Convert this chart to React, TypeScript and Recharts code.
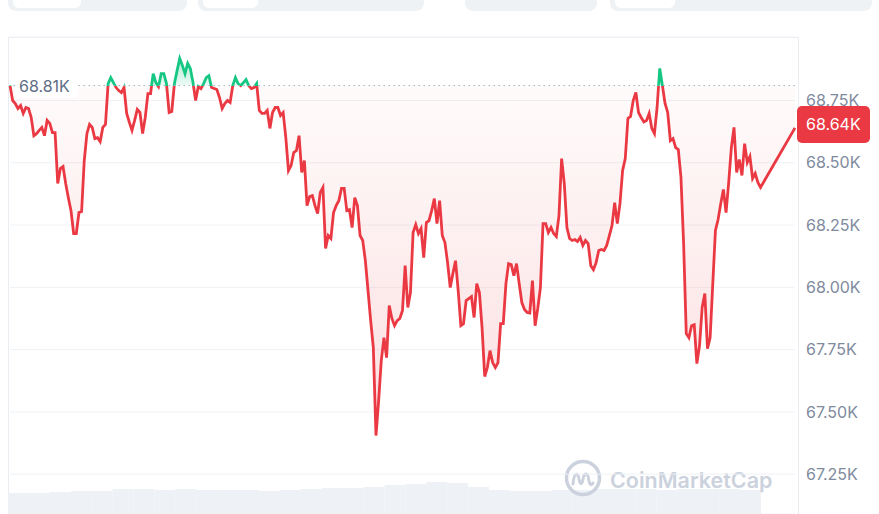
import React from 'react';
import {
  ComposedChart,
  Area,
  XAxis,
  YAxis,
  CartesianGrid,
  ReferenceLine,
  BarChart,
  Bar,
} from 'recharts';

// BTC/USD, last 24h, one sample every 5 minutes
const prices = [
  68810, 68750, 68738, 68718, 68730, 68698, 68722, 68718, 68682, 68609,
  68617, 68630, 68642, 68609, 68670, 68658, 68621, 68621, 68417, 68477,
  68485, 68417, 68360, 68308, 68216, 68216, 68300, 68304, 68509, 68617,
  68654, 68642, 68597, 68601, 68585, 68642, 68654, 68818, 68842, 68822,
  68802, 68790, 68782, 68802, 68698, 68662, 68630, 68670, 68714, 68702,
  68617, 68682, 68778, 68778, 68858, 68822, 68806, 68858, 68858, 68818,
  68702, 68706, 68818, 68870, 68919, 68891, 68858, 68899, 68879,
  68822, 68750, 68806, 68798, 68818, 68842, 68850, 68802, 68798, 68794,
  68762, 68718, 68738, 68750, 68742, 68810, 68842, 68818, 68810, 68822,
  68834, 68810, 68798, 68802, 68818, 68710, 68698, 68698, 68710,
  68638, 68702, 68722, 68722, 68690, 68702, 68601, 68469, 68489, 68541,
  68549, 68609, 68461, 68509, 68328, 68364, 68368, 68328, 68296, 68381,
  68401, 68156, 68208, 68196, 68300, 68328, 68348, 68397, 68397, 68308,
  68312, 68240, 68360, 68328, 68208, 68188, 68107, 67987, 67866, 67758,
  67405, 67545, 67706, 67798, 67718, 67927, 67875, 67846, 67866, 67875,
  67907, 68087, 67919, 67979, 68220, 68252, 68216, 68236, 68119, 68260,
  68268, 68308, 68356, 68256, 68348, 68208, 68180, 68099, 67999, 68055,
  68107, 67987, 67846, 67854, 67947, 67955, 67963, 67879, 68015, 67979,
  67838, 67642, 67678, 67746, 67698, 67678, 67698, 67854, 67854, 68015,
  68095, 68091, 68047, 68095, 68015, 67939, 67911, 67899, 67897, 68027,
  67846, 67915, 67999, 68256, 68256, 68220, 68240, 68216, 68204, 68288,
  68517, 68417, 68240, 68196, 68188, 68192, 68184, 68200, 68168, 68188,
  68176, 68087, 68071, 68099, 68148, 68152, 68148, 68168, 68208, 68248,
  68340, 68256, 68336, 68469, 68517, 68678, 68686, 68750, 68782, 68702,
  68682, 68664, 68670, 68698, 68638, 68617, 68722, 68879, 68810, 68738,
  68702, 68589, 68597, 68561, 68553, 68441, 68176, 67814, 67798, 67846,
  67850, 67694, 67766, 67919, 67975, 67754, 67798, 68015, 68228, 68272,
  68336, 68393, 68300, 68421, 68561, 68642, 68461, 68513, 68449, 68577,
  68501, 68525, 68437, 68457, 68421, 68401,
];
const stepMinutes = 5;
const openPrice = 68810;
const latestPrice = 68640;
const latestMinute = 1480;

const yTicks = [67250, 67500, 67750, 68000, 68250, 68500, 68750];

// traded volume, relative, in ~20 min buckets
const volumeBars = [
  21, 21, 22, 23, 23, 25, 25, 24, 25, 24, 24, 24, 23, 24, 25, 26, 26, 27,
  29, 30, 32, 31, 27, 24, 23, 23, 24, 24, 25, 25, 25, 24, 25, 25, 25, 24,
];

const UP = '#16c784';
const DOWN = '#ea3943';

const data = [
  ...prices.map((price, i) => ({ t: i * stepMinutes, price })),
  { t: latestMinute, price: latestPrice },
];
const maxP = Math.max(...data.map((d) => d.price));
const minP = Math.min(...data.map((d) => d.price));
const split = (maxP - openPrice) / (maxP - minP);

const fmtK = (v: number) => `${(v / 1000).toFixed(2)}K`;

const BaselineTag = (props: any) => {
  const { viewBox } = props;
  if (!viewBox) return null;
  return (
    <g>
      <rect x={viewBox.x + 5} y={viewBox.y - 12} width={63} height={24} rx={4} fill="#fff" />
      <text x={viewBox.x + 9} y={viewBox.y + 6} fill="#616e85" fontSize={16} fontFamily="Inter">
        {fmtK(openPrice)}
      </text>
    </g>
  );
};

const PriceBadge = (props: any) => {
  const { viewBox } = props;
  if (!viewBox) return null;
  const x = viewBox.x + viewBox.width + 2;
  return (
    <g>
      <rect x={x} y={viewBox.y - 22} width={73} height={37} rx={5} fill={DOWN} />
      <text x={x + 9} y={viewBox.y + 2} fill="#fff" fontSize={16} fontFamily="Inter">
        {fmtK(latestPrice)}
      </text>
    </g>
  );
};

const Tabs = () => {
  const tabs = [
    { left: 8, width: 179, inner: 68 },
    { left: 198, width: 226, inner: 55 },
    { left: 465, width: 132, inner: 0 },
    { left: 610, width: 262, inner: 60 },
  ];
  return (
    <>
      {tabs.map((t, i) => (
        <div
          key={i}
          style={{
            position: 'absolute',
            left: t.left,
            top: 0,
            width: t.width,
            height: 11,
            background: '#eff2f5',
            borderRadius: '0 0 8px 8px',
          }}
        >
          {t.inner > 0 && (
            <div
              style={{
                position: 'absolute',
                left: 5,
                top: 0,
                width: t.inner,
                height: 8,
                background: '#fff',
                borderRadius: '0 0 6px 6px',
              }}
            />
          )}
        </div>
      ))}
    </>
  );
};

const Watermark = () => (
  <svg
    width={220}
    height={42}
    style={{ position: 'absolute', left: 563, top: 458 }}
  >
    <circle cx={20} cy={20} r={16.5} fill="none" stroke="#cbd2dd" strokeWidth={3.5} />
    <path
      d="M10 26 C11 14, 15 14, 16 21 C17 27, 19 27, 20 21 C21 14, 25 14, 26 23 C27 28, 29 27, 30 25"
      fill="none"
      stroke="#cbd2dd"
      strokeWidth={3}
      strokeLinecap="round"
    />
    <text x={47} y={30} fill="#cbd2dd" fontSize={21.5} fontWeight={600} fontFamily="Inter">
      CoinMarketCap
    </text>
  </svg>
);

export default function App() {
  return (
    <div
      style={{
        position: 'absolute',
        left: 0,
        top: 0,
        width: 879,
        height: 514,
        overflow: 'hidden',
        background: '#fff',
        fontFamily: 'Inter, sans-serif',
      }}
    >
      <Tabs />
      <div
        style={{
          position: 'absolute',
          left: 8,
          top: 37,
          width: 789,
          height: 490,
          border: '1px solid #e9ecf0',
        }}
      />
      <div style={{ position: 'absolute', left: 8, top: 474 }}>
        <BarChart
          width={753}
          height={40}
          data={volumeBars.map((v, i) => ({ i, v }))}
          margin={{ top: 0, right: 0, bottom: 0, left: 0 }}
          barCategoryGap={0}
        >
          <XAxis dataKey="i" hide />
          <YAxis domain={[0, 40]} hide />
          <Bar dataKey="v" fill="#eef1f6" isAnimationActive={false} />
        </BarChart>
      </div>
      <Watermark />
      <div style={{ position: 'absolute', left: 0, top: 0 }}>
        <ComposedChart
          width={879}
          height={514}
          data={data}
          margin={{ top: 37, right: 0, bottom: 0, left: 10 }}
        >
          <defs>
            <linearGradient id="lineSplit" x1="0" y1="0" x2="0" y2="1">
              <stop offset={0} stopColor={UP} />
              <stop offset={split} stopColor={UP} />
              <stop offset={split} stopColor={DOWN} />
              <stop offset={1} stopColor={DOWN} />
            </linearGradient>
            <linearGradient id="fillSplit" x1="0" y1="0" x2="0" y2="1">
              <stop offset={0} stopColor={UP} stopOpacity={0.35} />
              <stop offset={split} stopColor={UP} stopOpacity={0.08} />
              <stop offset={split} stopColor={DOWN} stopOpacity={0.02} />
              <stop offset={1} stopColor={DOWN} stopOpacity={0.16} />
            </linearGradient>
          </defs>
          <CartesianGrid vertical={false} stroke="#eff2f5" />
          <XAxis dataKey="t" type="number" domain={[0, latestMinute]} hide />
          <YAxis
            orientation="right"
            domain={[67090, 69005]}
            ticks={yTicks}
            tickFormatter={fmtK}
            axisLine={false}
            tickLine={false}
            tickSize={0}
            tickMargin={11}
            width={84}
            allowDataOverflow
            tick={{ fill: '#808a9d', fontSize: 16, fontFamily: 'Inter' }}
          />
          <ReferenceLine
            y={openPrice}
            stroke="#a9b1bf"
            strokeDasharray="1.5 3.5"
            label={<BaselineTag />}
          />
          <Area
            type="linear"
            dataKey="price"
            baseValue={openPrice}
            stroke="url(#lineSplit)"
            strokeWidth={2.8}
            fill="url(#fillSplit)"
            fillOpacity={1}
            dot={false}
            activeDot={false}
            isAnimationActive={false}
          />
          <ReferenceLine y={latestPrice} stroke="none" label={<PriceBadge />} />
        </ComposedChart>
      </div>
    </div>
  );
}
